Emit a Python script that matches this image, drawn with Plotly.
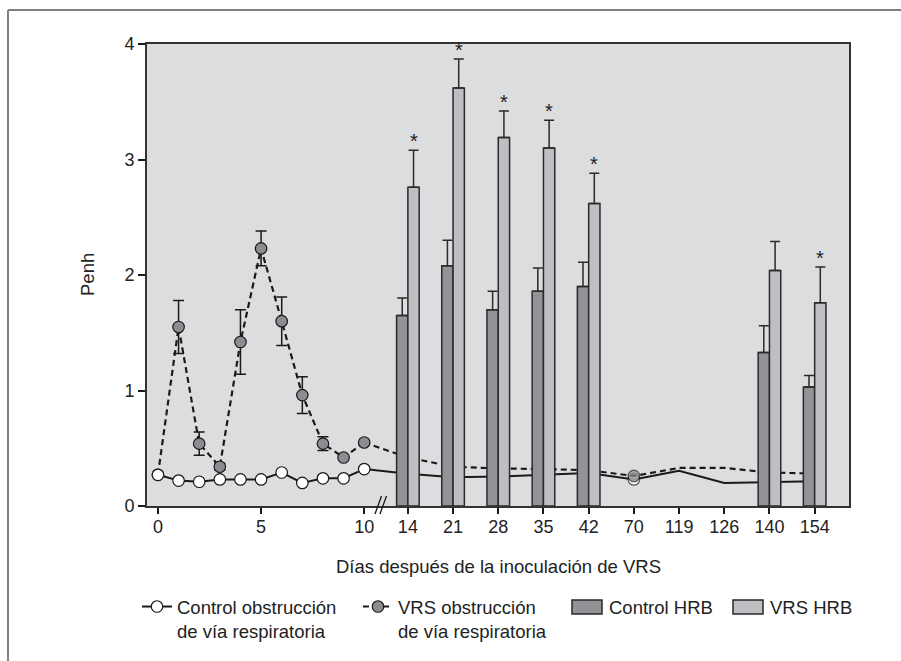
import plotly.graph_objects as go

# ---------------- data ----------------
days_early = [0, 1, 2, 3, 4, 5, 6, 7, 8, 9, 10]
days_late = [14, 21, 28, 35, 42, 70, 119, 126, 140, 154]
all_days = days_early + days_late

ctrl_obs = [0.27, 0.22, 0.21, 0.23, 0.23, 0.23, 0.29, 0.20, 0.24, 0.24, 0.32,
            0.28, 0.25, 0.255, 0.27, 0.285, 0.23, 0.305, 0.20, 0.21, 0.215]
vrs_obs = [0.27, 1.55, 0.54, 0.34, 1.42, 2.23, 1.60, 0.96, 0.54, 0.42, 0.55,
           0.42, 0.34, 0.325, 0.32, 0.31, 0.26, 0.33, 0.33, 0.29, 0.28]
vrs_obs_err = [0.0, 0.23, 0.10, 0.03, 0.28, 0.15, 0.21, 0.16, 0.06, 0.0, 0.0]

hrb_days = [14, 21, 28, 35, 42, 140, 154]
ctrl_hrb = [1.65, 2.08, 1.70, 1.86, 1.90, 1.33, 1.03]
ctrl_hrb_err = [0.15, 0.22, 0.16, 0.20, 0.21, 0.23, 0.10]
vrs_hrb = [2.76, 3.62, 3.19, 3.10, 2.62, 2.04, 1.76]
vrs_hrb_err = [0.32, 0.25, 0.23, 0.24, 0.26, 0.25, 0.31]
significant = [True, True, True, True, True, False, True]

tick_days = [0, 5, 10] + days_late
tick_text = [str(d) for d in tick_days]

# ---------------- axis mapping (broken axis) ----------------
EARLY_STEP = 0.4564
LATE_START = 5.53


def xpos(d):
    if d <= 10:
        return d * EARLY_STEP
    return LATE_START + days_late.index(d)


# ---------------- styling ----------------
FONT = "Liberation Sans, Arial, sans-serif"
FS = 18.5
TFS = 18
TXT = "#222222"
LINE = "#1a1a1a"
BG = "#dcdddf"
C_DARK = "#929396"
C_LIGHT = "#bebfc2"
MS = 11.5
BARW = 0.25
LEG_ROW1 = 607  # centre of first legend text row (px)

W, H = 901, 661
L, R, T, B = 147, 52, 44, 155
PW = W - L - R
PH = H - T - B


def px_x(px):
    return (px - L) / PW


def px_y(py):
    return (H - B - py) / PH


fig = go.Figure()

# tail parts (after day 10)
i10 = days_early.index(10)
tail_days = all_days[i10:]
tail_sizes = [MS if d == 70 else 0 for d in tail_days]
tail_lw = [1.2 if d == 70 else 0 for d in tail_days]

fig.add_trace(go.Scatter(
    x=[xpos(d) for d in tail_days], y=ctrl_obs[i10:],
    mode="lines+markers", showlegend=False,
    line=dict(color=LINE, width=2),
    marker=dict(symbol="circle", size=tail_sizes, color="white",
                line=dict(color=LINE, width=tail_lw)),
))
fig.add_trace(go.Scatter(
    x=[xpos(d) for d in tail_days], y=vrs_obs[i10:],
    mode="lines+markers", showlegend=False,
    line=dict(color=LINE, width=2.2, dash="6px,4px"),
    marker=dict(symbol="circle", size=tail_sizes, color="#8c8d90",
                line=dict(color=LINE, width=tail_lw)),
))

# early parts (days 0-10)
fig.add_trace(go.Scatter(
    x=[xpos(d) for d in days_early], y=vrs_obs[:i10 + 1],
    mode="lines+markers", name="VRS obstrucción<br>de vía respiratoria",
    legend="legend2",
    line=dict(color=LINE, width=2.2, dash="6px,4px"),
    marker=dict(symbol="circle", size=MS, color="#8c8d90",
                line=dict(color=LINE, width=1.2)),
    error_y=dict(type="data", array=vrs_obs_err, symmetric=True,
                 color=LINE, thickness=1.5, width=5.5),
))
fig.add_trace(go.Scatter(
    x=[xpos(d) for d in days_early], y=ctrl_obs[:i10 + 1],
    mode="lines+markers", name="Control obstrucción<br>de vía respiratoria",
    legend="legend",
    line=dict(color=LINE, width=2),
    marker=dict(symbol="circle", size=MS, color="white",
                line=dict(color=LINE, width=1.2)),
))

# bars on an overlaying axis so they hide the lines behind them
fig.add_trace(go.Bar(
    x=[xpos(d) - BARW / 2 for d in hrb_days], y=ctrl_hrb, width=BARW,
    name="Control HRB", showlegend=False, xaxis="x2", yaxis="y2",
    marker=dict(color=C_DARK, line=dict(color="#2a2a2a", width=1.5)),
    error_y=dict(type="data", array=ctrl_hrb_err, arrayminus=[0] * len(hrb_days),
                 symmetric=False, color="#2a2a2a", thickness=1.5, width=5),
))
fig.add_trace(go.Bar(
    x=[xpos(d) + BARW / 2 for d in hrb_days], y=vrs_hrb, width=BARW,
    name="VRS HRB", showlegend=False, xaxis="x2", yaxis="y2",
    marker=dict(color=C_LIGHT, line=dict(color="#2a2a2a", width=1.5)),
    error_y=dict(type="data", array=vrs_hrb_err, arrayminus=[0] * len(hrb_days),
                 symmetric=False, color="#2a2a2a", thickness=1.5, width=5),
))

xrange = [-0.242, 15.29]
yrange = [0, 4]

annotations = []
for d, v, e, s in zip(hrb_days, vrs_hrb, vrs_hrb_err, significant):
    if s:
        annotations.append(dict(
            x=xpos(d) + BARW / 2, y=v + e, xref="x", yref="y", text="*",
            showarrow=False, yanchor="bottom", yshift=-4,
            font=dict(family=FONT, size=20, color=TXT)))

annotations.append(dict(
    x=0.5, y=px_y(566), xref="paper", yref="paper",
    text="Días después de la inoculación de VRS", showarrow=False,
    xanchor="center", yanchor="middle",
    font=dict(family=FONT, size=FS, color=TXT)))
annotations.append(dict(
    x=px_x(87), y=0.5, xref="paper", yref="paper", text="Penh",
    textangle=-90, showarrow=False, xanchor="center", yanchor="middle",
    font=dict(family=FONT, size=FS, color=TXT)))

# custom legend entries for the bar series (wide swatches)
bar_legend = [("Control HRB", C_DARK, 572), ("VRS HRB", C_LIGHT, 733)]
shapes = []
for label, col, x0 in bar_legend:
    shapes.append(dict(type="rect", xref="paper", yref="paper",
                       x0=px_x(x0), x1=px_x(x0 + 30),
                       y0=px_y(LEG_ROW1 + 7), y1=px_y(LEG_ROW1 - 7),
                       fillcolor=col, line=dict(color="#2a2a2a", width=1.5)))
    annotations.append(dict(x=px_x(x0 + 35), y=px_y(LEG_ROW1), xref="paper", yref="paper",
                            text=label, showarrow=False, xanchor="left",
                            yanchor="middle",
                            font=dict(family=FONT, size=FS, color=TXT)))

shapes += [
    # outer frame (left and top)
    dict(type="line", xref="paper", yref="paper",
         x0=px_x(8), x1=px_x(8), y0=px_y(10), y1=px_y(661),
         line=dict(color="#808080", width=2)),
    dict(type="line", xref="paper", yref="paper",
         x0=px_x(8), x1=px_x(901), y0=px_y(10), y1=px_y(10),
         line=dict(color="#808080", width=2)),
    # axis break marks
    dict(type="line", xref="paper", yref="paper",
         x0=px_x(375), x1=px_x(381.5), y0=px_y(514), y1=px_y(496),
         line=dict(color=LINE, width=1.3)),
    dict(type="line", xref="paper", yref="paper",
         x0=px_x(380), x1=px_x(386.5), y0=px_y(514), y1=px_y(496),
         line=dict(color=LINE, width=1.3)),
]

leg_common = dict(orientation="v", yanchor="top", xanchor="left",
                  y=px_y(LEG_ROW1 - 19), bgcolor="rgba(0,0,0,0)", borderwidth=0,
                  valign="top", font=dict(family=FONT, size=FS, color=TXT))

fig.update_layout(
    width=W, height=H,
    margin=dict(l=L, r=R, t=T, b=B, autoexpand=False),
    paper_bgcolor="white", plot_bgcolor=BG,
    font=dict(family=FONT, size=FS, color=TXT),
    barmode="overlay",
    xaxis=dict(range=xrange, tickvals=[xpos(d) for d in tick_days], ticktext=tick_text,
               ticks="outside", ticklen=6, tickwidth=1.5, tickcolor=LINE,
               ticklabelstandoff=-3,
               showline=True, linecolor="#333333", linewidth=2, mirror=True,
               showgrid=False, zeroline=False, fixedrange=True,
               tickfont=dict(family=FONT, size=TFS, color=TXT)),
    yaxis=dict(range=yrange, tickvals=[0, 1, 2, 3, 4],
               ticks="outside", ticklen=7, tickwidth=1.5, tickcolor=LINE,
               showline=True, linecolor="#333333", linewidth=2, mirror=True,
               showgrid=False, zeroline=False,
               tickfont=dict(family=FONT, size=TFS, color=TXT)),
    xaxis2=dict(range=xrange, overlaying="x", visible=False),
    yaxis2=dict(range=yrange, overlaying="y", visible=False),
    legend=dict(leg_common, x=px_x(137)),
    legend2=dict(leg_common, x=px_x(358)),
    annotations=annotations,
    shapes=shapes,
)

fig.write_html("out.html", config={"displayModeBar": False},
               post_script="document.body.style.margin='0px';")
